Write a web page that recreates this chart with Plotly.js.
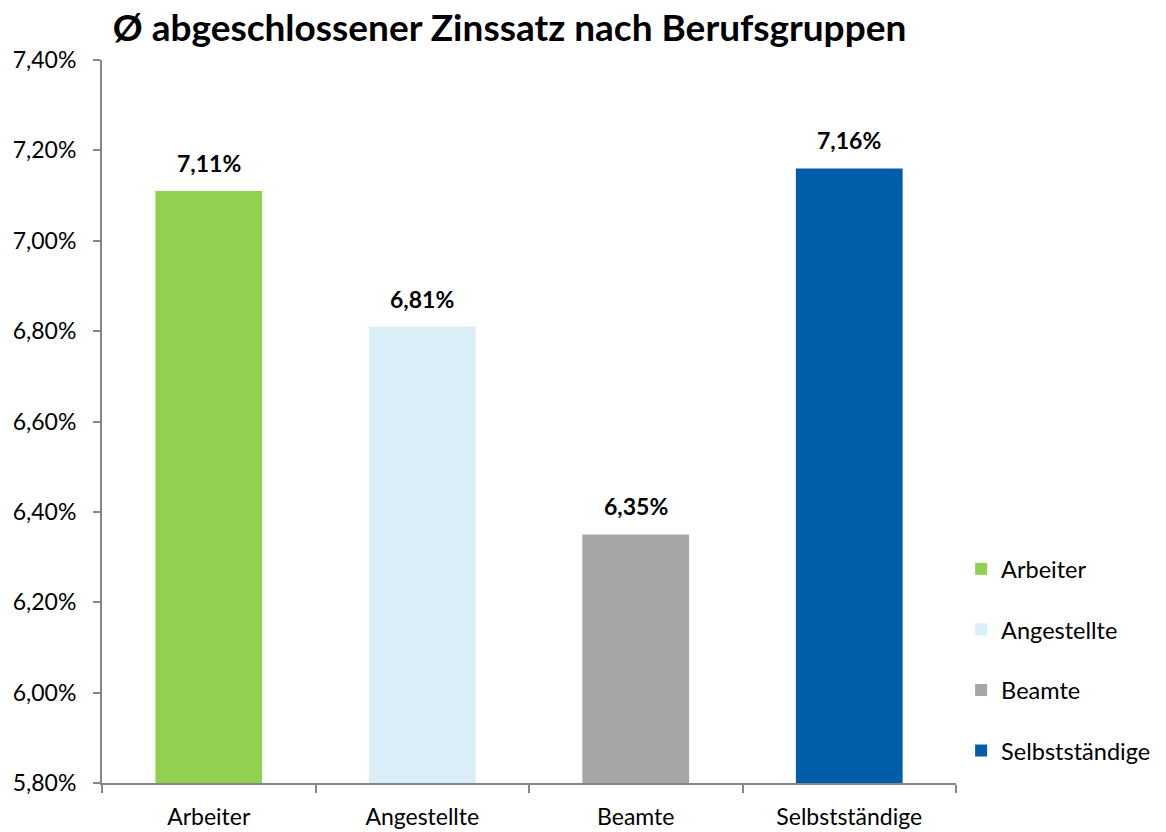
<!DOCTYPE html>
<html><head><meta charset="utf-8">
<script src="https://cdn.plot.ly/plotly-3.0.1.min.js"></script>
<style>body{margin:0;}#chart{width:1166px;height:832px;}</style>
</head><body><div id="chart"></div>
<script>
const categories = ["Arbeiter", "Angestellte", "Beamte", "Selbstständige"];
const values = [7.11, 6.81, 6.35, 7.16];
const colors = ["#92D050", "#DAEEF8", "#A6A6A6", "#005DAA"];
const yTicks = [5.8, 6.0, 6.2, 6.4, 6.6, 6.8, 7.0, 7.2, 7.4];
const BASE = 5.8;
const FONT = "Lato, 'Open Sans', sans-serif";

const traces = categories.map((c, i) => ({
  type: "bar",
  x: [c],
  y: [values[i] - BASE],
  base: BASE,
  name: c,
  legendgroup: c,
  marker: {color: colors[i]},
  width: 0.5,
  hoverinfo: "skip"
}));

const annotations = categories.map((c, i) => ({
  x: c, y: values[i], xref: "x", yref: "y",
  text: "<b>" + values[i].toFixed(2).replace(".", ",") + "%</b>",
  showarrow: false, yanchor: "bottom", yshift: 12,
  font: {family: FONT, size: 23, color: "#000"}
}));

const layout = {
  width: 1166, height: 832,
  margin: {l: 102, r: 210, t: 60, b: 49, autoexpand: false},
  paper_bgcolor: "#fff", plot_bgcolor: "#fff",
  separators: ",.",
  barmode: "overlay",
  font: {family: FONT, size: 23, color: "#000"},
  title: {text: "<b>Ø abgeschlossener Zinssatz nach Berufsgruppen</b>", x: 0.437, xanchor: "center", y: 0.982, yanchor: "top", font: {family: FONT, size: 37, color: "#000"}},
  xaxis: {
    type: "category", categoryorder: "array", categoryarray: categories,
    showline: true, linecolor: "#868686", linewidth: 2,
    ticks: "outside", tickson: "boundaries", ticklen: 8, tickcolor: "#868686", tickwidth: 2,
    ticklabelstandoff: 12,
    tickfont: {family: FONT, size: 23}, showgrid: false, zeroline: false
  },
  yaxis: {
    range: [5.8, 7.4], tickvals: yTicks, ticktext: yTicks.map(v => v.toFixed(2).replace(".", ",") + "%"),
    showline: true, linecolor: "#868686", linewidth: 2,
    ticks: "outside", ticklen: 7, tickcolor: "#868686", tickwidth: 2,
    ticklabelstandoff: 12,
    tickfont: {family: FONT, size: 23}, showgrid: false, zeroline: false
  },
  annotations: annotations,
  showlegend: true,
  legend: {x: 1.006, xanchor: "left", y: 0.17, yanchor: "middle", font: {family: FONT, size: 23.5}, tracegroupgap: 27, itemwidth: 30, traceorder: "grouped"}
};
Plotly.newPlot("chart", traces, layout, {displayModeBar: false});
</script></body></html>
